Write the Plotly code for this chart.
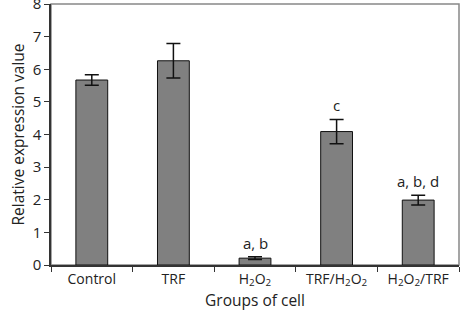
import plotly.graph_objects as go

categories = ["Control", "TRF", "H<sub>2</sub>O<sub>2</sub>", "TRF/H<sub>2</sub>O<sub>2</sub>", "H<sub>2</sub>O<sub>2</sub>/TRF"]
values = [5.67, 6.26, 0.21, 4.09, 1.99]
errors = [0.16, 0.53, 0.04, 0.37, 0.15]
labels = ["", "", "a, b", "c", "a, b, d"]

fig = go.Figure()
fig.add_trace(go.Bar(
    x=categories, y=values,
    marker=dict(color="#808080", line=dict(color="#111111", width=1)),
    error_y=dict(type="data", array=errors, color="#111111", thickness=1.5, width=7),
    width=0.39,
))
for c, v, e, t in zip(categories, values, errors, labels):
    if t:
        fig.add_annotation(x=c, y=v + e, text=t, showarrow=False, yshift=14,
                           font=dict(size=15, color="#222222"))

fig.add_shape(type="rect", xref="paper", yref="paper", x0=0, y0=0, x1=1, y1=1,
              line=dict(color="#888888", width=1.5), layer="below")

fig.update_layout(
    width=461, height=313,
    margin=dict(l=51, r=2, t=4, b=48),
    plot_bgcolor="white", paper_bgcolor="white",
    font=dict(family="Open Sans, Noto Sans, sans-serif", size=13, color="#222222"),
    showlegend=False,
    xaxis=dict(showline=True, linecolor="#333333", linewidth=1.5, tickson="boundaries",
               ticks="outside", ticklen=5, tickcolor="#333333", automargin=False,
               tickfont=dict(size=14),
               title=dict(text="Groups of cell", standoff=0, font=dict(size=15.5))),
    yaxis=dict(range=[0, 8], dtick=1, showline=True, ticklabeloverflow="allow",
               linecolor="#333333", linewidth=1.5,
               ticks="outside", ticklen=5, tickcolor="#333333", showgrid=False, zeroline=False,
               automargin=False,
               title=dict(text="Relative expression value", standoff=4, font=dict(size=15.5)),
               tickfont=dict(size=15)),
)
fig.write_html("out.html", config={"displayModeBar": False},
               post_script="document.body.style.margin='0px';")
